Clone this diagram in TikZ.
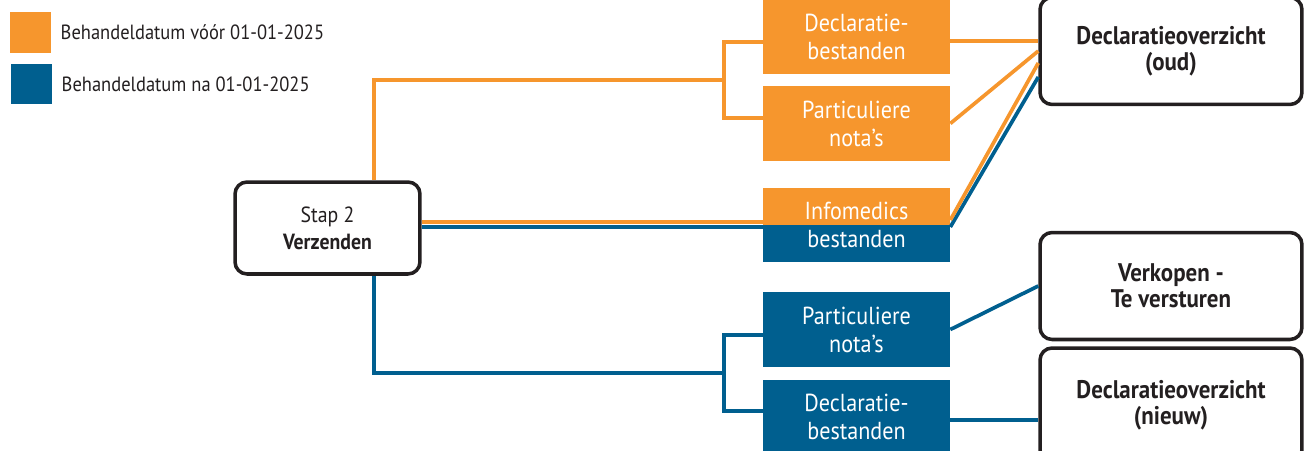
\documentclass[tikz,border=0pt]{standalone}
\usepackage{fontspec}
\setmainfont{PT Sans}[FakeStretch=0.9]
\usetikzlibrary{positioning}
\definecolor{orng}{RGB}{246,150,45}
\definecolor{blu}{RGB}{0,95,143}
\definecolor{ink}{RGB}{35,31,32}
\newcommand{\Link}[3]{\draw [#1] (#2) -- (#3);}

\begin{document}
\begin{tikzpicture}
[x=0.02cm,y=-0.02cm,
 oline/.style={orng,line width=2.1pt},
 bline/.style={blu,line width=2.1pt},
 key/.style={minimum size=0.82cm,inner sep=0pt},
 keytext/.style={anchor=west,inner sep=0pt,text=ink,font=\fontsize{11.7}{13}\selectfont},
 filebox/.style={minimum width=3.74cm,minimum height=1.5cm,inner sep=0pt,align=center,
   text=white,font=\fontsize{14}{16}\selectfont},
 infosplit/.style={fill=blu,path picture={\fill[orng] (path picture bounding box.north west)
   rectangle (path picture bounding box.east);}},
 stepbox/.style={draw=ink,fill=white,line width=2pt,rounded corners=0.24cm,text=ink,
   minimum width=3.7cm,minimum height=1.84cm,align=center,font=\fontsize{12.5}{15.5}\selectfont},
 viewbox/.style={draw=ink,fill=white,line width=2pt,rounded corners=0.24cm,text=ink,
   minimum width=5.24cm,minimum height=2.14cm,align=center,font=\bfseries\fontsize{14.5}{15}\selectfont}]

\useasboundingbox (0,0) rectangle (1306,450);
\clip (0,0) rectangle (1306,450);

% legend
\node [key,fill=orng] at (30.5,32.5) (kold) {};
\node [key,fill=blu] at (31.5,84) (knew) {};
\node [keytext,right=0.18cm of kold] (told) {Behandeldatum vóór 01-01-2025};
\node [keytext,right=0.18cm of knew] (tnew) {Behandeldatum na 01-01-2025};

% step and files
\node [stepbox] at (327.5,228) (stap) {Stap 2\\\textbf{Verzenden}};
\node [filebox,fill=orng] at (856.5,37) (odecl) {Declaratie-\\bestanden};
\node [filebox,fill=orng] at (856.5,123.5) (opart) {Particuliere\\nota’s};
\node [filebox,infosplit] at (856.5,225) (info) {Infomedics\\bestanden};
\node [filebox,fill=blu] at (856.5,329.5) (bpart) {Particuliere\\nota’s};
\node [filebox,fill=blu] at (856.5,417) (bdecl) {Declaratie-\\bestanden};

% overviews
\node [viewbox] at (1171,51) (oud) {Declaratieoverzicht\\(oud)};
\node [viewbox] at (1171,286) (verk) {Verkopen -\\Te versturen};
\node [viewbox,minimum height=2.28cm] at (1171,405) (nieuw) {Declaratieoverzicht\\(nieuw)};

\coordinate (osplit) at (724,80);
\coordinate (bsplit) at (724,373);

% before 2025
\draw [oline] ([xshift=0.93cm]stap.north) |- (osplit);
\draw [oline] ([yshift=-0.1cm]odecl.west) -| (osplit) |- ([yshift=0.11cm]opart.west);
\draw [oline] ([yshift=0.12cm]stap.east) -- ([yshift=0.12cm]stap.east -| info.west);
\draw [oline] ([yshift=-0.08cm]odecl.east) -- ([yshift=-0.08cm]odecl.east -| oud.west);
\Link{oline}{opart.east}{oud.west}

% after 2025
\draw [bline] ([xshift=0.93cm]stap.south) |- (bsplit);
\draw [bline] ([yshift=-0.11cm]bpart.west) -| (bsplit) |- ([yshift=0.12cm]bdecl.west);
\draw [bline] ([yshift=0.02cm]stap.east) -- ([yshift=0.02cm]stap.east -| info.west);
\draw [bline] ([yshift=-0.04cm]info.east) -- ([yshift=-0.52cm]oud.west);
\draw [oline] ([yshift=0.1cm]info.east) -- ([yshift=-0.24cm]oud.west);
\Link{bline}{bpart.east}{verk.west}
\draw [bline] ([yshift=-0.06cm]bdecl.east) -- ([yshift=-0.06cm]bdecl.east -| nieuw.west);
\end{tikzpicture}
\end{document}
